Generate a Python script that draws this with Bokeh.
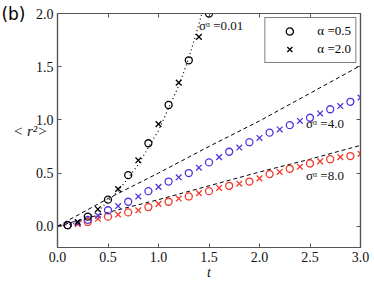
from bokeh.plotting import figure
from bokeh.models import (Label, Legend, LegendItem, LinearAxis, FixedTicker, Range1d,
                          CustomJSTickFormatter)
from bokeh.embed import file_html
from bokeh.resources import INLINE

# ---- data ----
t_circ = [0.1, 0.3, 0.5, 0.7, 0.9, 1.1, 1.3, 1.5, 1.7, 1.9, 2.1, 2.3, 2.5, 2.7, 2.9]
t_cross = [0.2, 0.4, 0.6, 0.8, 1.0, 1.2, 1.4, 1.6, 1.8, 2.0, 2.2, 2.4, 2.6, 2.8, 3.0]

black_circ_t = [0.1, 0.3, 0.5, 0.7, 0.9, 1.1, 1.3, 1.5]
black_circ_y = [0.01, 0.09, 0.25, 0.48, 0.78, 1.14, 1.56, 2.0]
black_cross_t = [0.2, 0.4, 0.6, 0.8, 1.0, 1.2, 1.4]
black_cross_y = [0.04, 0.16, 0.35, 0.62, 0.96, 1.35, 1.78]

blue_circ_y = [0.01, 0.06, 0.15, 0.23, 0.33, 0.42, 0.50, 0.60, 0.70, 0.79, 0.88, 0.95, 1.02, 1.10, 1.17]
blue_cross_y = [0.03, 0.10, 0.19, 0.28, 0.37, 0.46, 0.55, 0.65, 0.74, 0.83, 0.91, 0.99, 1.06, 1.13, 1.21]

red_circ_y = [0.01, 0.04, 0.09, 0.13, 0.18, 0.23, 0.28, 0.33, 0.38, 0.42, 0.49, 0.54, 0.59, 0.63, 0.66]
red_cross_y = [0.02, 0.07, 0.11, 0.15, 0.21, 0.26, 0.31, 0.36, 0.40, 0.45, 0.51, 0.56, 0.61, 0.65, 0.68]

dot_t = [0.0, 0.2, 0.4, 0.6, 0.8, 1.0, 1.2, 1.3, 1.4, 1.5]
dot_y = [0.0, 0.03, 0.14, 0.33, 0.58, 0.90, 1.32, 1.58, 1.90, 2.25]

dash_t = [0.0, 0.5, 1.0, 1.5, 2.0, 2.5, 3.0]
dash4_y = [0.0, 0.26, 0.50, 0.75, 0.99, 1.25, 1.51]
dash8_y = [0.0, 0.13, 0.25, 0.38, 0.51, 0.63, 0.76]

x_ticks = [0.0, 0.5, 1.0, 1.5, 2.0, 2.5, 3.0]
y_ticks = [0.0, 0.5, 1.0, 1.5, 2.0]

NAN = float("nan")
BLUE = "#5533dd"
RED = "#f03a2a"
SERIF = "Liberation Serif"
SPINE = "#555555"

p = figure(width=374, height=286, output_backend="svg", toolbar_location=None,
           x_range=Range1d(0, 3.0), y_range=Range1d(-0.2, 2.0),
           min_border_left=57, min_border_right=14, min_border_top=13, min_border_bottom=39,
           background_fill_color="white", border_fill_color="white")
p.grid.visible = False
p.outline_line_color = SPINE
p.outline_line_width = 1.2

# lines
p.line(dash_t, dash4_y, line_color="black", line_dash="4 3", line_width=1)
p.line(dash_t, dash8_y, line_color="black", line_dash="4 3", line_width=1)
p.line(dot_t, dot_y, line_color="black", line_dash="1 3", line_width=1.2)

# markers
CS = 7
XS = 8
LW = 1.3
p.scatter(t_circ, red_circ_y, marker="circle", size=CS, fill_color=None, line_color=RED, line_width=LW)
p.scatter(t_cross, red_cross_y, marker="x", size=XS, line_color=RED, line_width=LW)
p.scatter(t_circ, blue_circ_y, marker="circle", size=CS, fill_color=None, line_color=BLUE, line_width=LW)
p.scatter(t_cross, blue_cross_y, marker="x", size=XS, line_color=BLUE, line_width=LW)
p.scatter(black_circ_t, black_circ_y, marker="circle", size=CS, fill_color=None, line_color="black", line_width=LW)
p.scatter(black_cross_t, black_cross_y, marker="x", size=XS, line_color="black", line_width=LW)

# legend (placeholder renderers, no visible data)
lc = p.scatter([NAN], [NAN], marker="circle", size=CS, fill_color=None, line_color="black", line_width=LW)
lx = p.scatter([NAN], [NAN], marker="x", size=XS, line_color="black", line_width=LW)
legend = Legend(items=[LegendItem(label="α =0.5", renderers=[lc]),
                       LegendItem(label="α =2.0", renderers=[lx])],
                location="top_right", margin=4, padding=4, spacing=0,
                label_text_font=SERIF, label_text_font_size="13px", label_text_color="black",
                label_height=18, glyph_height=18, glyph_width=40, label_standoff=8,
                border_line_color="black", border_line_width=1,
                background_fill_color="white", background_fill_alpha=1)
p.add_layout(legend)

# axes
p.xaxis.ticker = FixedTicker(ticks=x_ticks)
p.yaxis.ticker = FixedTicker(ticks=y_ticks)
for ax in (p.xaxis[0], p.yaxis[0]):
    ax.major_tick_in = 4
    ax.major_tick_out = 0
    ax.minor_tick_line_color = None
    ax.axis_line_color = SPINE
    ax.axis_line_width = 1.2
    ax.major_tick_line_color = SPINE
    ax.major_label_text_font = SERIF
    ax.major_label_text_font_size = "14px"
    ax.major_label_text_color = "#111111"
    ax.major_label_standoff = 4
    ax.formatter = CustomJSTickFormatter(code="return tick.toFixed(1);")
p.xaxis.axis_label = "t"
p.xaxis.axis_label_text_font = SERIF
p.xaxis.axis_label_text_font_style = "italic"
p.xaxis.axis_label_text_font_size = "14px"
p.xaxis.axis_label_text_color = "#111111"
p.xaxis.axis_label_standoff = 0

top = LinearAxis(ticker=FixedTicker(ticks=x_ticks))
right = LinearAxis(ticker=FixedTicker(ticks=y_ticks))
for ax in (top, right):
    ax.major_tick_in = 4
    ax.major_tick_out = 0
    ax.minor_tick_line_color = None
    ax.axis_line_color = SPINE
    ax.axis_line_width = 1.2
    ax.major_tick_line_color = SPINE
    ax.major_label_text_font_size = "1px"
    ax.major_label_text_color = None
    ax.major_label_standoff = 0
p.add_layout(top, "above")
p.add_layout(right, "right")

# outer left axis: carries the panel tag "(b)" at the top and the y label
outer = LinearAxis(ticker=FixedTicker(ticks=[2.0]), major_label_overrides={2.0: "(b)"})
outer.axis_line_color = None
outer.major_tick_line_color = None
outer.minor_tick_line_color = None
outer.major_tick_in = 0
outer.major_tick_out = 0
outer.major_label_standoff = 7
outer.major_label_text_font = "DejaVu Sans"
outer.major_label_text_font_size = "17px"
outer.major_label_text_color = "black"
outer.axis_label = "< r²>"
outer.axis_label_orientation = "horizontal"
outer.axis_label_text_font = SERIF
outer.axis_label_text_font_style = "italic"
outer.axis_label_text_font_size = "15px"
outer.axis_label_text_color = "#111111"
outer.axis_label_standoff = -49
p.add_layout(outer, "left")

for (lx_, ly_, txt) in [(1.40, 1.89, "σᵅ =0.01"), (2.46, 0.97, "σᵅ =4.0"), (2.46, 0.48, "σᵅ =8.0")]:
    p.add_layout(Label(x=lx_, y=ly_, text=txt, text_font=SERIF, text_font_size="13px",
                       text_align="left", text_baseline="middle", text_color="#111111"))

open("out.html", "w").write(file_html(p, INLINE))
